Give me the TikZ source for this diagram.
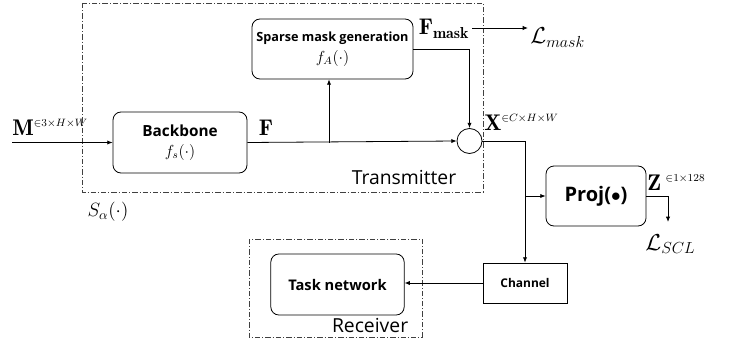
\documentclass[tikz,border=0pt]{standalone}
\usepackage{fontspec}
\setsansfont{Open Sans}
\usetikzlibrary{arrows.meta}

\begin{document}
\begin{tikzpicture}[
      x=0.75pt, y=-0.75pt,
      line width=0.6pt,
      rbox/.style={draw, rounded corners=6pt, align=center, font=\sffamily\bfseries},
      sbox/.style={draw, align=center, font=\sffamily\bfseries\small},
      arr/.style={-{Latex[length=4pt, width=3.2pt]}},
      frame/.style={draw=black!75, dash pattern=on 4pt off 1.5pt on 0.8pt off 1.5pt},
      lbl/.style={inner sep=0pt, font=\fontsize{17}{19}\selectfont},
      big/.style={font=\sffamily\fontsize{14.5}{16}\selectfont}
    ]
      \useasboundingbox (0,0) rectangle (730,346);
      % frames
      \draw[frame] (82,3) rectangle (483,192);
      \draw[frame] (249,239) rectangle (422,337);
      \node[big, anchor=base east] (tx) at (461,184) {Transmitter};
      \node[big, anchor=base east] (rx) at (413,332) {Receiver};
      \node[font=\fontsize{14}{16}\selectfont] (sa) at (108,212) {$S_\alpha(\cdot)$};
      % blocks
      \node[rbox, minimum width=100.5pt, minimum height=45.75pt] (bb) at (180,142.5)
        {\fontsize{11.5}{13}\selectfont\bfseries Backbone\\[3pt] \normalfont\large $f_s(\cdot)$};
      \node[rbox, minimum width=119pt, minimum height=45pt] (sm) at (332.5,49)
        {\fontsize{9.5}{11}\selectfont\bfseries Sparse mask generation\\[4pt] \normalfont\large $f_A(\cdot)$};
      \node[circle, draw, minimum size=18.75pt, inner sep=0pt] (cir) at (469.5,141) {};
      \node[rbox, minimum width=75pt, minimum height=45pt, font=\sffamily\bfseries\fontsize{15}{17}\selectfont] (pj) at (596,196) {Proj($\bullet$)};
      \node[sbox, minimum width=63pt, minimum height=30pt, font=\sffamily\bfseries\fontsize{9}{11}\selectfont] (ch) at (525,283) {Channel};
      \node[rbox, minimum width=100pt, minimum height=45.75pt, font=\sffamily\bfseries\fontsize{11}{13}\selectfont] (tn) at (337.5,284.5) {Task network};
      % labels
      \node[lbl, anchor=base west] (m) at (12,135) {$\mathbf{M}^{\scriptscriptstyle\in 3\times H\times W}$};
      \node[lbl, anchor=base] (f) at (266,135) {$\mathbf{F}$};
      \node[lbl, anchor=base] (fm) at (444,35) {$\mathbf{F}_{\mathbf{mask}}$};
      \node[lbl, anchor=base west] (lm) at (530,44) {$\mathcal{L}_{mask}$};
      \node[lbl, anchor=base west] (x) at (484,130) {$\mathbf{X}^{\scriptscriptstyle\in C\times H\times W}$};
      \node[lbl, anchor=base west] (z) at (647,190) {$\mathbf{Z}^{\;\scriptscriptstyle\in 1\times 128}$};
      \node[lbl, anchor=base west] (ls) at (645,250) {$\mathcal{L}_{SCL}$};
      % connectors
      \coordinate (in) at (12,142.5);
      \coordinate (br) at (329,142.5);
      \coordinate (fmo) at (472,28);
      \coordinate (lmi) at (528,28);
      \coordinate (xb) at (ch.north |- pj.west);
      \coordinate (lsi) at (668,222);
      \draw[arr] (in) -- (bb.west);
      \draw[arr] (bb.east) -- (cir.west);
      \draw[arr] (br) -- (br |- sm.south);
      \draw[arr] (sm.east) -| (cir.north);
      \draw[arr] (fmo) -- (lmi);
      \draw[arr] (cir.east) -| (ch.north);
      \draw[arr] (xb) -- (pj.west);
      \draw[arr] (pj.east) -| (lsi);
      \draw[arr] (ch.west) -- (tn.east |- ch.west);
    \end{tikzpicture}
\end{document}
